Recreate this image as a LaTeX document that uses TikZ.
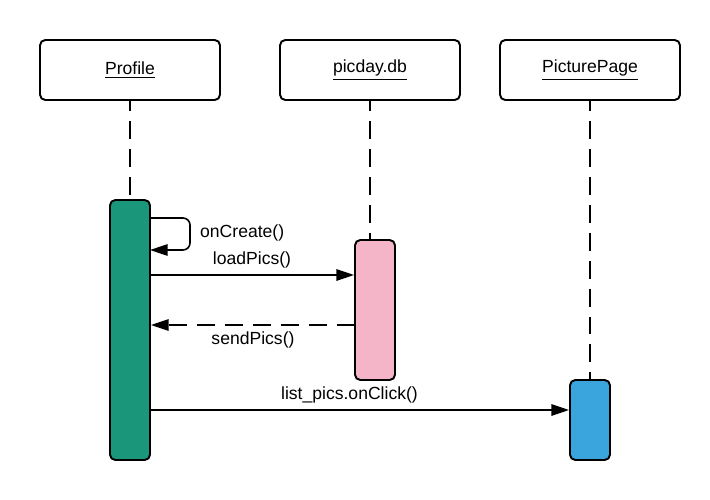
\documentclass[tikz,border=0pt]{standalone}
\usepackage{fontspec}
\setmainfont{Liberation Sans}
\usepackage{xcolor}
\usepackage{tikz}
\usetikzlibrary{arrows.meta}
\definecolor{actgreen}{HTML}{1A967B}
\definecolor{actpink}{HTML}{F4B5C9}
\definecolor{actblue}{HTML}{3AA5DD}
\tikzstyle{object} = [draw, line width=1.1pt, rounded corners=3pt, minimum width=3.6cm, minimum height=1.2cm, inner sep=0]
\tikzstyle{activation} = [draw, line width=1.1pt, rounded corners=3pt, minimum width=0.8cm, inner sep=0]
\tikzstyle{lifeline} = [draw, line width=1.1pt, dash pattern=on 10.2pt off 5.7pt, dash phase=4.5pt]
\tikzstyle{message} = [draw, line width=0.9pt, -{Triangle[length=10pt,width=6.5pt]}]

\begin{document}
\begin{tikzpicture}[x=0.02cm, y=-0.02cm]
\useasboundingbox (0, 0) rectangle (710, 500);
\node at (130, 70) [object] (Profile) {\underline{Profile}};
\node at (370, 70) [object] (picday) {\underline{picday.db}};
\node at (590, 70) [object] (PicturePage) {\underline{PicturePage}};

\node at (130, 330) [activation, fill=actgreen, minimum height=5.2cm] (act1) {};
\node at (375, 310) [activation, fill=actpink, minimum height=2.8cm] (act2) {};
\node at (590, 420) [activation, fill=actblue, minimum height=1.6cm] (act3) {};
\path [lifeline] (Profile.south) -- (act1.north);
\path [lifeline] (picday.south) -- (picday.south |- act2.north);
\path [lifeline] (PicturePage.south) -- (act3.north);

\coordinate (oc1) at (150, 218);
\coordinate (oc2) at (190, 250);
\coordinate (oc3) at (150, 250);
\path [message, rounded corners=4pt] (oc1) -| (oc2) -- (oc3);
\node [anchor=west] at (194, 233) (onCreate) {onCreate()};

\coordinate (lp1) at (150, 275);
\path [message] (lp1) -- node [above=0pt] (loadPics) {loadPics()} (lp1 -| act2.west);

\coordinate (sp1) at (355, 325);
\path [message, dash pattern=on 10.2pt off 5.7pt] (sp1) -- node [below] (sendPics) {sendPics()} (sp1 -| act1.east);

\coordinate (lc1) at (150, 410);
\path [message] (lc1) -- node [pos=0.476, above=0pt] (onClick) {list\_pics.onClick()} (lc1 -| act3.west);
\end{tikzpicture}
\end{document}
